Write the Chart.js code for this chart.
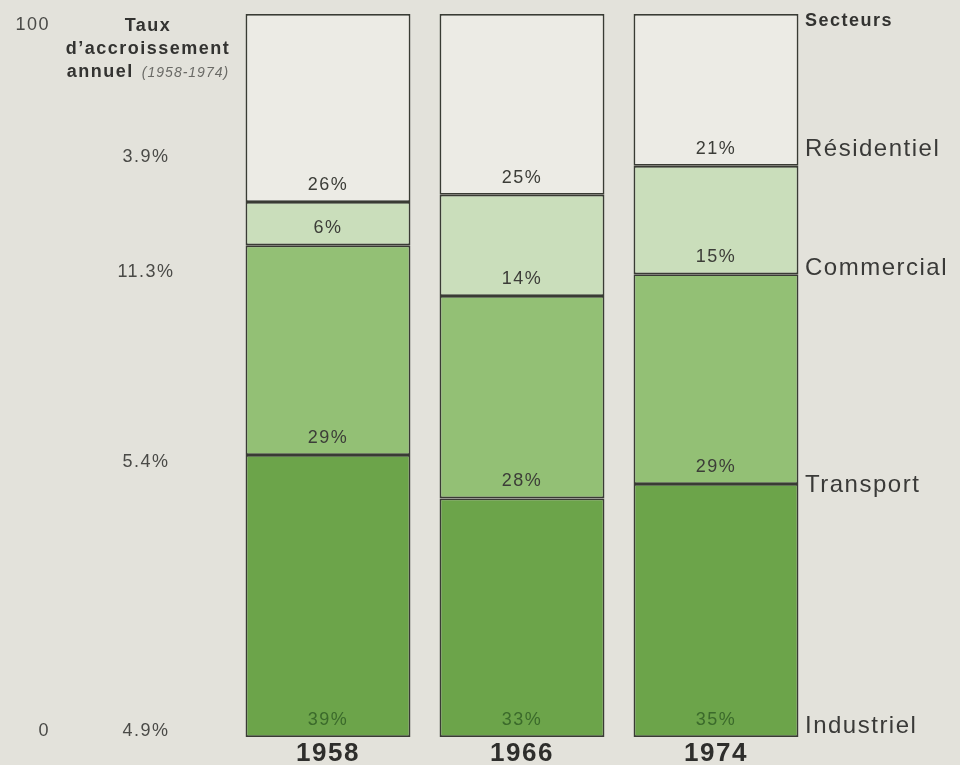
<!DOCTYPE html>
<html lang="fr">
<head>
<meta charset="utf-8">
<title>Consommation d'énergie par secteur</title>
<script src="https://cdn.jsdelivr.net/npm/chart.js@4/dist/chart.umd.min.js"></script>
<style>
  html, body { margin: 0; padding: 0; background: #e3e2db; }
  #wrap { width: 960px; height: 765px; position: relative; }
</style>
</head>
<body>
<div id="wrap"><canvas id="secteurChart"></canvas></div>
<script>
// part of each sector, in %, per year
const years = ['1958', '1966', '1974'];
const industriel = [39, 33, 35];
const transport = [29, 28, 29];
const commercial = [6, 14, 15];
const residentiel = [26, 25, 21];

const sectorNames = ['Industriel', 'Transport', 'Commercial', 'Résidentiel'];
const growthRates = ['4.9%', '5.4%', '11.3%', '3.9%'];
const scaleTicks = [0, 100];
const sectorColors = ['#6ca44a', '#93c075', '#cadebb', '#ecebe5'];

const FONT = '"Liberation Sans", Arial, Helvetica, sans-serif';
Chart.defaults.font.family = FONT;

// text around the bars: percentages, growth rates, sector names, headers
const annotations = {
    id: 'annotations',
    beforeDraw(chart) {
        chart.ctx.letterSpacing = '1.5px';
    },
    afterDatasetsDraw(chart) {
        const ctx = chart.ctx;
        ctx.save();
        ctx.letterSpacing = '1.5px';
        ctx.textAlign = 'center';
        ctx.textBaseline = 'middle';
        ctx.font = '18px ' + FONT;
        chart.data.datasets.forEach((ds, i) => {
            const meta = chart.getDatasetMeta(i);
            meta.data.forEach((bar, j) => {
                ctx.fillStyle = i === 0 ? '#3b6a2b' : '#3c3d38';
                ctx.fillText(ds.data[j] + '%', bar.x, bar.base - 17);
            });
        });
        ctx.restore();
    },
    afterDraw(chart) {
        const ctx = chart.ctx;
        const y = chart.scales.y;
        const last = years.length - 1;
        const rateShift = [-6, -22, -2, -9];
        const nameShift = [-11, 1, -6, -16];
        ctx.save();
        ctx.textBaseline = 'middle';
        ctx.letterSpacing = '1.5px';

        // 0 and 100 of the percentage scale, far left
        ctx.font = '18px ' + FONT;
        ctx.textAlign = 'right';
        ctx.fillStyle = '#4a4a47';
        scaleTicks.forEach(v => {
            ctx.fillText(String(v), 50, y.getPixelForValue(v) + (v === 0 ? -6 : 11));
        });

        sectorNames.forEach((name, i) => {
            const base = chart.getDatasetMeta(i).data[last].base;
            ctx.fillStyle = '#3a3a38';
            ctx.font = '24px ' + FONT;
            ctx.textAlign = 'left';
            ctx.fillText(name, 805, base + nameShift[i]);
            ctx.font = '18px ' + FONT;
            ctx.textAlign = 'center';
            ctx.fillStyle = '#4a4a47';
            ctx.fillText(growthRates[i], 146, base + rateShift[i]);
        });

        ctx.fillStyle = '#333331';
        ctx.font = 'bold 18px ' + FONT;
        ctx.textAlign = 'left';
        ctx.fillText('Secteurs', 805, 21);

        ctx.textAlign = 'center';
        ctx.fillText('Taux', 148, 26);
        ctx.fillText('d\u2019accroissement', 148, 49);

        // "annuel" bold followed by the italic period, centred as one line
        const word = 'annuel';
        const period = '(1958-1974)';
        ctx.textAlign = 'left';
        ctx.font = 'bold 18px ' + FONT;
        const w1 = ctx.measureText(word).width;
        ctx.font = 'italic 14px ' + FONT;
        ctx.letterSpacing = '1px';
        const w2 = ctx.measureText(period).width;
        const gap = 8;
        const x0 = 148 - (w1 + gap + w2) / 2;
        ctx.letterSpacing = '1.5px';
        ctx.font = 'bold 18px ' + FONT;
        ctx.fillStyle = '#333331';
        ctx.fillText(word, x0, 72);
        ctx.letterSpacing = '1px';
        ctx.font = 'italic 14px ' + FONT;
        ctx.fillStyle = '#6a6a66';
        ctx.fillText(period, x0 + w1 + gap, 73);
        ctx.restore();
    }
};

const makeSet = (label, data, i) => ({
    label: label,
    data: data,
    backgroundColor: sectorColors[i],
    borderColor: '#393b34',
    borderWidth: 1.8,
    borderSkipped: false,
    barPercentage: 0.85,
    categoryPercentage: 1
});

new Chart(document.getElementById('secteurChart').getContext('2d'), {
    type: 'bar',
    data: {
        labels: years,
        datasets: [
            makeSet(sectorNames[0], industriel, 0),
            makeSet(sectorNames[1], transport, 1),
            makeSet(sectorNames[2], commercial, 2),
            makeSet(sectorNames[3], residentiel, 3)
        ]
    },
    options: {
        responsive: true,
        maintainAspectRatio: false,
        animation: false,
        layout: { padding: { left: 231, right: 147, top: 14, bottom: -6 } },
        plugins: {
            legend: { display: false },
            tooltip: { enabled: false }
        },
        scales: {
            x: {
                stacked: true,
                grid: { display: false, drawTicks: false },
                border: { display: false },
                ticks: {
                    padding: 7,
                    color: '#2e2e2c',
                    font: { size: 26, weight: 'bold', lineHeight: 0.77 }
                }
            },
            y: {
                display: false,
                stacked: true,
                min: 0,
                max: 100
            }
        }
    },
    plugins: [annotations]
});
</script>
</body>
</html>
